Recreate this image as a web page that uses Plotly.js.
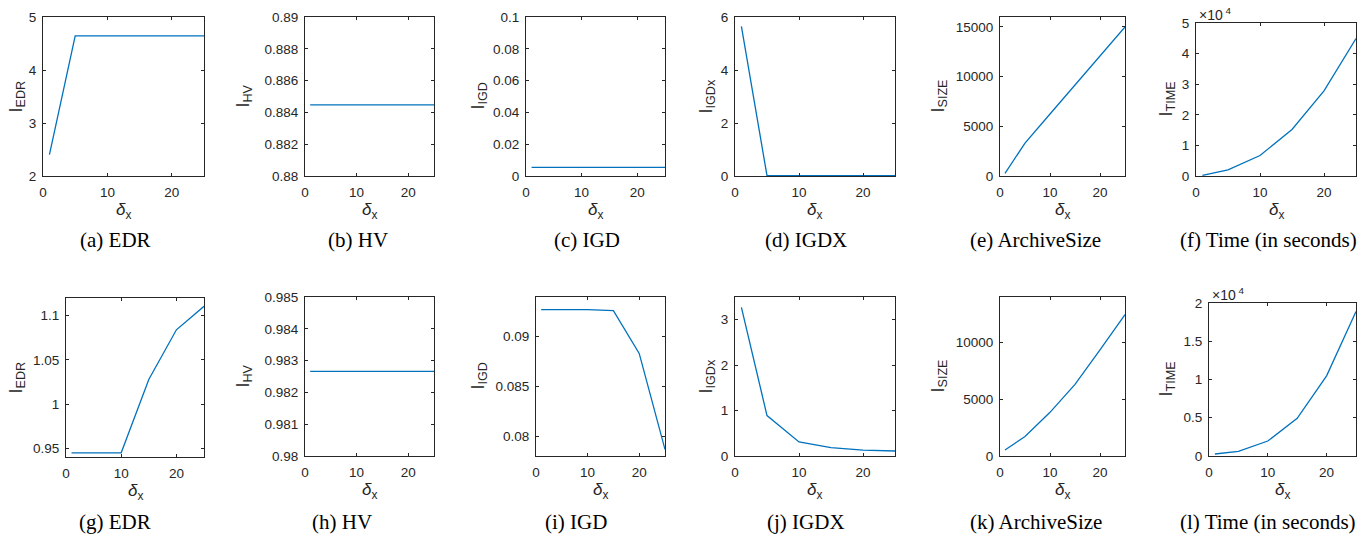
<!DOCTYPE html>
<html>
<head>
<meta charset="utf-8">
<script src="https://cdn.plot.ly/plotly-3.0.1.min.js"></script>
<style>html,body{margin:0;padding:0;background:#fff;}#chart{width:1372px;height:538px;}</style>
</head>
<body>
<div id="chart"></div>
<script>
// ---------- data ----------
const deltaX = [1, 5, 10, 15, 20, 25];

// row 1
const edrA  = [2.405, 4.645, 4.645, 4.645, 4.645, 4.645];
const hvA   = [0.88447, 0.88447, 0.88447, 0.88447, 0.88447, 0.88447];
const igdA  = [0.0054, 0.0054, 0.0054, 0.0054, 0.0054, 0.0054];
const igdxA = [5.65, 0.01, 0.01, 0.01, 0.01, 0.01];
const sizeA = [270, 3310, 6240, 9160, 12080, 15000];
const timeA = [200, 2000, 6700, 15200, 27800, 44900];

// row 2
const edrB  = [0.9447, 0.9447, 0.9447, 1.0277, 1.084, 1.1106];
const hvB   = [0.98266, 0.98266, 0.98266, 0.98266, 0.98266, 0.98266];
const igdB  = [0.09273, 0.09273, 0.09272, 0.09262, 0.08832, 0.07866];
const igdxB = [3.27, 0.89, 0.31, 0.185, 0.13, 0.11];
const sizeB = [530, 1716, 3846, 6300, 9350, 12456];
const timeB = [260, 610, 1960, 4930, 10480, 18900];

// tick values / labels
const xTicks = [0, 10, 20];
const xTickLabels = ['0', '10', '20'];
const edrATicks = [2, 3, 4, 5];           const edrALabels = ['2', '3', '4', '5'];
const hvATicks = [0.88, 0.882, 0.884, 0.886, 0.888, 0.89];
const hvALabels = ['0.88', '0.882', '0.884', '0.886', '0.888', '0.89'];
const igdATicks = [0, 0.02, 0.04, 0.06, 0.08, 0.1];
const igdALabels = ['0', '0.02', '0.04', '0.06', '0.08', '0.1'];
const igdxATicks = [0, 2, 4, 6];          const igdxALabels = ['0', '2', '4', '6'];
const sizeATicks = [0, 5000, 10000, 15000]; const sizeALabels = ['0', '5000', '10000', '15000'];
const timeATicks = [0, 10000, 20000, 30000, 40000, 50000];
const timeALabels = ['0', '1', '2', '3', '4', '5'];
const edrBTicks = [0.95, 1, 1.05, 1.1];   const edrBLabels = ['0.95', '1', '1.05', '1.1'];
const hvBTicks = [0.98, 0.981, 0.982, 0.983, 0.984, 0.985];
const hvBLabels = ['0.98', '0.981', '0.982', '0.983', '0.984', '0.985'];
const igdBTicks = [0.08, 0.085, 0.09];    const igdBLabels = ['0.08', '0.085', '0.09'];
const igdxBTicks = [0, 1, 2, 3];          const igdxBLabels = ['0', '1', '2', '3'];
const sizeBTicks = [0, 5000, 10000];      const sizeBLabels = ['0', '5000', '10000'];
const timeBTicks = [0, 5000, 10000, 15000, 20000];
const timeBLabels = ['0', '0.5', '1', '1.5', '2'];

const yNames = ['EDR', 'HV', 'IGD', 'IGDx', 'SIZE', 'TIME'];
const captions = ['(a) EDR', '(b) HV', '(c) IGD', '(d) IGDX', '(e) ArchiveSize', '(f) Time (in seconds)',
                  '(g) EDR', '(h) HV', '(i) IGD', '(j) IGDX', '(k) ArchiveSize', '(l) Time (in seconds)'];

// ---------- layout geometry (pixels) ----------
const W = 1372, H = 538;
const panels = [
  {y: edrA,  range: [2, 5],        tv: edrATicks,  tt: edrALabels,  box: [43, 204, 17, 176],  tX: 17,   cX: 115,  cY: 240},
  {y: hvA,   range: [0.88, 0.89],  tv: hvATicks,   tt: hvALabels,   box: [305, 434, 17, 176], tX: 244,  cX: 358,  cY: 240},
  {y: igdA,  range: [0, 0.1],      tv: igdATicks,  tt: igdALabels,  box: [526, 665, 17, 176], tX: 479,  cX: 587,  cY: 240},
  {y: igdxA, range: [0, 6],        tv: igdxATicks, tt: igdxALabels, box: [735, 895, 17, 176], tX: 707,  cX: 806,  cY: 240},
  {y: sizeA, range: [0, 16000],    tv: sizeATicks, tt: sizeALabels, box: [1000, 1125, 17, 176], tX: 939, cX: 1035, cY: 240},
  {y: timeA, range: [0, 50000],    tv: timeATicks, tt: timeALabels, box: [1196, 1356, 23, 176], tX: 1167, cX: 1268, cY: 240, exp: 1197},
  {y: edrB,  range: [0.94, 1.12],  tv: edrBTicks,  tt: edrBLabels,  box: [66, 204, 298, 457], tX: 17,   cX: 115,  cY: 522},
  {y: hvB,   range: [0.98, 0.985], tv: hvBTicks,   tt: hvBLabels,   box: [305, 434, 297, 456], tX: 244, cX: 342,  cY: 522},
  {y: igdB,  range: [0.078, 0.094],tv: igdBTicks,  tt: igdBLabels,  box: [536, 665, 297, 456], tX: 479, cX: 576,  cY: 522},
  {y: igdxB, range: [0, 3.5],      tv: igdxBTicks, tt: igdxBLabels, box: [735, 895, 297, 456], tX: 707, cX: 806,  cY: 522},
  {y: sizeB, range: [0, 14000],    tv: sizeBTicks, tt: sizeBLabels, box: [1000, 1125, 297, 456], tX: 939, cX: 1036, cY: 522},
  {y: timeB, range: [0, 20000],    tv: timeBTicks, tt: timeBLabels, box: [1209, 1356, 303, 456], tX: 1167, cX: 1268, cY: 522, exp: 1210}
];

const axColor = '#262626';
const tickFont = {family: 'Liberation Sans, Arial, sans-serif', size: 13.5, color: axColor};
const labelFont = {family: 'Liberation Sans, Arial, sans-serif', size: 18, color: axColor};
const xLabelFont = {family: 'Liberation Sans, Arial, sans-serif', size: 17, color: axColor};
const expFont = {family: 'Liberation Sans, Arial, sans-serif', size: 14, color: axColor};
const capFont = {family: 'Liberation Serif, Times New Roman, serif', size: 21, color: '#000'};

const px = v => v / W;
const py = v => 1 - v / H;

const traces = [];
const layout = {
  width: W, height: H,
  margin: {l: 0, r: 0, t: 0, b: 0},
  paper_bgcolor: '#fff', plot_bgcolor: '#fff',
  showlegend: false,
  annotations: []
};

panels.forEach((p, i) => {
  const n = i + 1;
  const xa = n === 1 ? 'x' : 'x' + n;
  const ya = n === 1 ? 'y' : 'y' + n;
  traces.push({
    x: deltaX, y: p.y, xaxis: xa, yaxis: ya,
    type: 'scatter', mode: 'lines',
    line: {color: '#0072BD', width: 1.3},
    hoverinfo: 'x+y'
  });
  const common = {
    showline: true, linecolor: axColor, linewidth: 1, mirror: 'ticks',
    ticks: 'inside', ticklen: 3, tickwidth: 1, tickcolor: axColor,
    showgrid: false, zeroline: false, tickfont: tickFont, fixedrange: true
  };
  layout['xaxis' + (n === 1 ? '' : n)] = Object.assign({}, common, {
    anchor: ya, domain: [px(p.box[0]), px(p.box[1])],
    range: [0, 25], tickmode: 'array', tickvals: xTicks, ticktext: xTickLabels,
    ticklabelstandoff: 4
  });
  layout['yaxis' + (n === 1 ? '' : n)] = Object.assign({}, common, {
    anchor: xa, domain: [py(p.box[3]), py(p.box[2])],
    range: p.range, tickmode: 'array', tickvals: p.tv, ticktext: p.tt,
    ticklabelstandoff: 3
  });
  const midY = (p.box[2] + p.box[3]) / 2;
  const midX = (p.box[0] + p.box[1]) / 2;
  // y label
  layout.annotations.push({
    xref: 'paper', yref: 'paper', x: px(p.tX), y: py(midY),
    xanchor: 'center', yanchor: 'middle', textangle: -90, showarrow: false,
    text: 'I<sub>' + yNames[i % 6] + '</sub>', font: labelFont
  });
  // x label
  layout.annotations.push({
    xref: 'paper', yref: 'paper', x: px(midX), y: py(p.box[3] + 35),
    xanchor: 'center', yanchor: 'middle', showarrow: false,
    text: '<i>δ</i><sub>x</sub>', font: xLabelFont
  });
  // caption
  layout.annotations.push({
    xref: 'paper', yref: 'paper', x: px(p.cX), y: py(p.cY),
    xanchor: 'center', yanchor: 'middle', showarrow: false,
    text: captions[i], font: capFont
  });
  if (p.exp) {
    layout.annotations.push({
      xref: 'paper', yref: 'paper', x: px(p.exp), y: py(p.box[2] - 9),
      xanchor: 'left', yanchor: 'middle', showarrow: false,
      text: '×10<sup> 4</sup>', font: expFont
    });
  }
});

Plotly.newPlot('chart', traces, layout, {staticPlot: true, displayModeBar: false});
</script>
</body>
</html>
